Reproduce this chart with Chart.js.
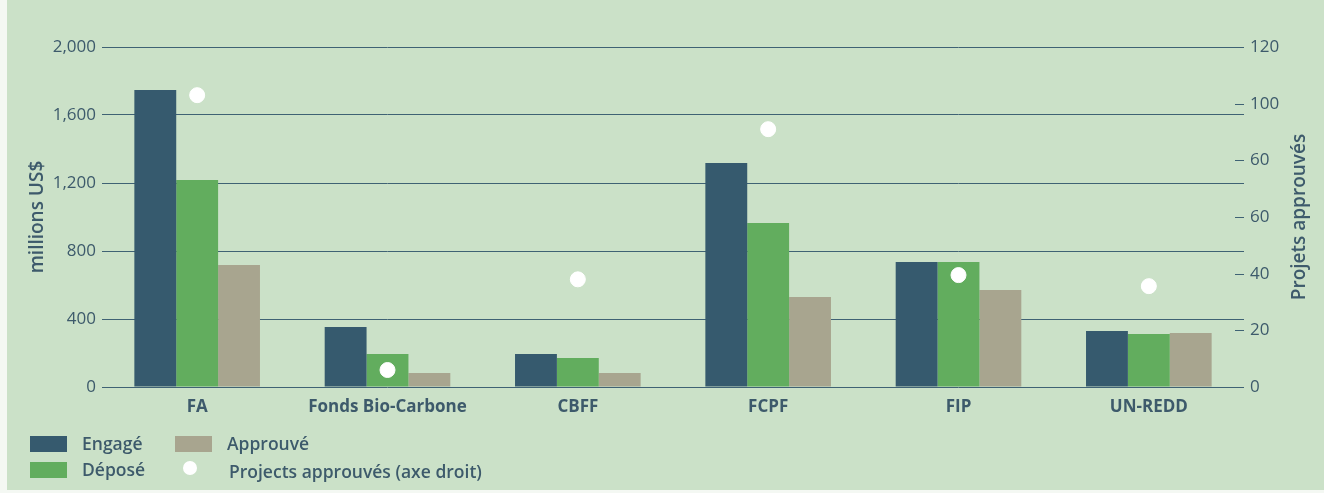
<!DOCTYPE html>
<html>
<head>
<meta charset="utf-8">
<script src="https://cdn.jsdelivr.net/npm/chart.js@4"></script>
<style>
  html, body { margin: 0; padding: 0; background: #f4f8f3; }
  .panel { position: absolute; left: 7px; top: 0; width: 1317px; height: 490px; background: #cbe1c8; }
  .wrap { position: absolute; left: 0; top: 0; width: 1324px; height: 493px; }
  .legend { position: absolute; left: 0; top: 428px; font-family: "Open Sans", sans-serif; font-weight: 600; font-size: 17.5px; color: #3d5a6b; }
  .item { position: absolute; white-space: nowrap; }
  .box { position: absolute; width: 37px; height: 16px; }
  .dot { position: absolute; width: 14px; height: 14px; border-radius: 50%; background: #fff; }
  .axis-title { position: absolute; width: 200px; height: 24px; line-height: 24px; text-align: center; font-family: "Open Sans", sans-serif; font-weight: 600; font-size: 19px; color: #3d5a6b; transform: rotate(-90deg); white-space: nowrap; }
</style>
</head>
<body>
<div class="panel"></div>
<div class="wrap"><canvas id="chart" width="1324" height="493"></canvas></div>
<div class="axis-title" style="left:-64px;top:205px">millions US$</div>
<div class="axis-title" style="left:1198px;top:205px">Projets approuvés</div>
<div class="legend">
  <div class="box" style="left:30px;top:8px;background:#365a6e"></div>
  <div class="item" style="left:82px;top:3px">Engagé</div>
  <div class="box" style="left:175px;top:8px;background:#a8a58f"></div>
  <div class="item" style="left:227px;top:3px">Approuvé</div>
  <div class="box" style="left:30px;top:34px;background:#62ad5e"></div>
  <div class="item" style="left:82px;top:29px">Déposé</div>
  <div class="dot" style="left:183px;top:33px"></div>
  <div class="item" style="left:229px;top:31px">Projects approuvés (axe droit)</div>
</div>
<script>
const categories = ["FA", "Fonds Bio-Carbone", "CBFF", "FCPF", "FIP", "UN-REDD"];
const engage = [1747, 353, 194, 1318, 735, 329];
const depose = [1218, 194, 170, 965, 735, 312];
const approuve = [718, 82, 82, 529, 570, 318];
const projetsApprouves = [103, 6, 38, 91, 39.5, 35.6];
const leftTicks = [0, 400, 800, 1200, 1600, 2000];
const rightTickValues = [0, 20, 40, 60, 80, 100, 120];
const rightTickLabels = ["0", "20", "40", "60", "60", "100", "120"];

const textColor = "#3d5a6b";
const lineColor = "#3f6274";

const rightTickMarks = {
  id: "rightTickMarks",
  afterDraw(chart) {
    const { ctx, chartArea } = chart;
    const y2 = chart.scales.y2;
    ctx.save();
    ctx.strokeStyle = lineColor;
    ctx.lineWidth = 1;
    rightTickValues.forEach(v => {
      const y = Math.round(y2.getPixelForValue(v)) + 0.5;
      ctx.beginPath();
      ctx.moveTo(chartArea.right - 9, y);
      ctx.lineTo(chartArea.right, y);
      ctx.stroke();
    });
    ctx.restore();
  }
};

new Chart(document.getElementById("chart").getContext("2d"), {
  type: "bar",
  data: {
    labels: categories,
    datasets: [
      { type: "scatter", label: "Projects approuvés (axe droit)", data: projetsApprouves.map((v, i) => ({ x: categories[i], y: v })),
        yAxisID: "y2", backgroundColor: "#ffffff", borderColor: "#ffffff", pointRadius: 7.5, order: 0 },
      { label: "Engagé", data: engage, backgroundColor: "#365a6e", yAxisID: "y", order: 1 },
      { label: "Déposé", data: depose, backgroundColor: "#62ad5e", yAxisID: "y", order: 1 },
      { label: "Approuvé", data: approuve, backgroundColor: "#a8a58f", yAxisID: "y", order: 1 }
    ]
  },
  options: {
    responsive: false,
    animation: false,
    layout: { padding: { left: 0, right: 0, top: 47, bottom: 66 } },
    datasets: { bar: { categoryPercentage: 0.66, barPercentage: 1 } },
    plugins: { legend: { display: false }, tooltip: { enabled: false } },
    scales: {
      x: {
        type: "category",
        grid: { display: false, drawTicks: false },
        border: { display: false },
        ticks: { color: textColor, padding: 10, font: { family: "'Open Sans', sans-serif", size: 17, weight: "bold" } },
        afterFit(scale) { scale.height = 40; }
      },
      y: {
        position: "left",
        min: 0, max: 2000,
        afterBuildTicks(scale) { scale.ticks = leftTicks.map(v => ({ value: v })); },
        grid: { color: lineColor, lineWidth: 1, drawTicks: false },
        border: { display: false },
        ticks: { color: textColor, padding: 6, font: { family: "'Open Sans', sans-serif", size: 17 },
          callback: v => v.toLocaleString("en-US") },
        afterFit(scale) { scale.width = 102; }
      },
      y2: {
        position: "right",
        min: 0, max: 120,
        afterBuildTicks(scale) { scale.ticks = rightTickValues.map(v => ({ value: v })); },
        grid: { drawOnChartArea: false, drawTicks: false },
        border: { display: false },
        ticks: { color: textColor, padding: 6, font: { family: "'Open Sans', sans-serif", size: 17 },
          callback: (v, i) => rightTickLabels[i] },
        afterFit(scale) { scale.width = 80; }
      }
    }
  },
  plugins: [rightTickMarks]
});
</script>
</body>
</html>
